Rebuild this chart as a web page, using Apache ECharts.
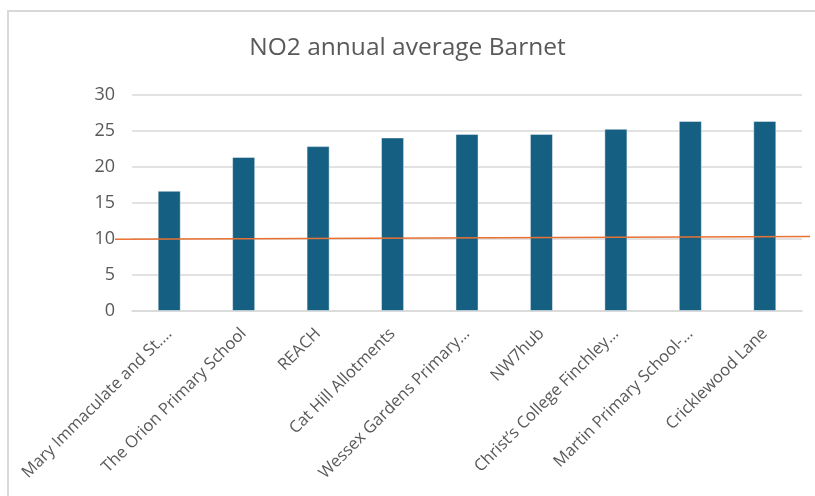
<!DOCTYPE html>
<html>
<head>
<meta charset="utf-8">
<script src="https://cdn.jsdelivr.net/npm/echarts@6/dist/echarts.min.js"></script>
<style>
  html, body { margin: 0; padding: 0; background: #fff; }
  #frame {
    position: absolute; left: 7px; top: 10px; width: 830px; height: 500px;
    border: 2px solid #d9d9d9; box-sizing: border-box;
  }
  #chart { position: absolute; left: 0; top: 0; width: 815px; height: 496px; }
</style>
</head>
<body>
<div id="frame"></div>
<div id="chart"></div>
<script>
// sites (labels truncated as in the original chart)
const sites = [
  'Mary Immaculate and St.\u2026',
  'The Orion Primary School',
  'REACH',
  'Cat Hill Allotments',
  'Wessex Gardens Primary\u2026',
  'NW7hub',
  'Christ\u2019s College Finchley\u2026',
  'Martin Primary School-\u2026',
  'Cricklewood Lane'
]
// annual average NO2
const no2 = [16.7, 21.4, 22.9, 24.1, 24.6, 24.6, 25.3, 26.4, 26.4]
// orange reference line: start / end values
const refY = [9.96, 10.33]

const textColor = '#595959'
const fontName = 'Open Sans'

const myChart = echarts.init(document.getElementById('chart'))
const option = {
  animation: false,
  title: {
    text: 'NO2 annual average Barnet',
    left: 'center',
    top: 31,
    textStyle: { color: textColor, fontSize: 24.5, fontWeight: 'normal', fontFamily: fontName }
  },
  grid: [
    { left: 132, right: 13, top: 95, bottom: 185 },
    // the orange line runs a little past the plot on both sides
    { left: 115, right: 5, top: 95, bottom: 185 }
  ],
  xAxis: [
    {
      type: 'category',
      gridIndex: 0,
      data: sites,
      axisLine: { show: true, lineStyle: { color: '#d9d9d9', width: 1.5 } },
      axisTick: { show: false },
      axisLabel: {
        rotate: 45, interval: 0, margin: 20,
        color: textColor, fontSize: 16.5, fontFamily: fontName
      }
    },
    { type: 'category', gridIndex: 1, data: ['start', 'end'], boundaryGap: false, show: false }
  ],
  yAxis: [
    {
      type: 'value',
      gridIndex: 0,
      min: 0, max: 30, interval: 5,
      axisLine: { show: false },
      axisTick: { show: false },
      axisLabel: { color: textColor, fontSize: 18, fontFamily: fontName, margin: 17 },
      splitLine: { lineStyle: { color: '#d9d9d9', width: 1.5 } }
    },
    { type: 'value', gridIndex: 1, min: 0, max: 30, show: false }
  ],
  series: [
    {
      type: 'bar',
      data: no2,
      barWidth: '31%',
      itemStyle: { color: '#156082', borderColor: 'rgba(255,255,255,0.45)', borderWidth: 1 }
    },
    {
      type: 'line',
      xAxisIndex: 1,
      yAxisIndex: 1,
      symbol: 'none',
      data: refY,
      lineStyle: { color: '#E97132', width: 1.5 },
      z: 5
    }
  ]
}
myChart.setOption(option)
</script>
</body>
</html>
